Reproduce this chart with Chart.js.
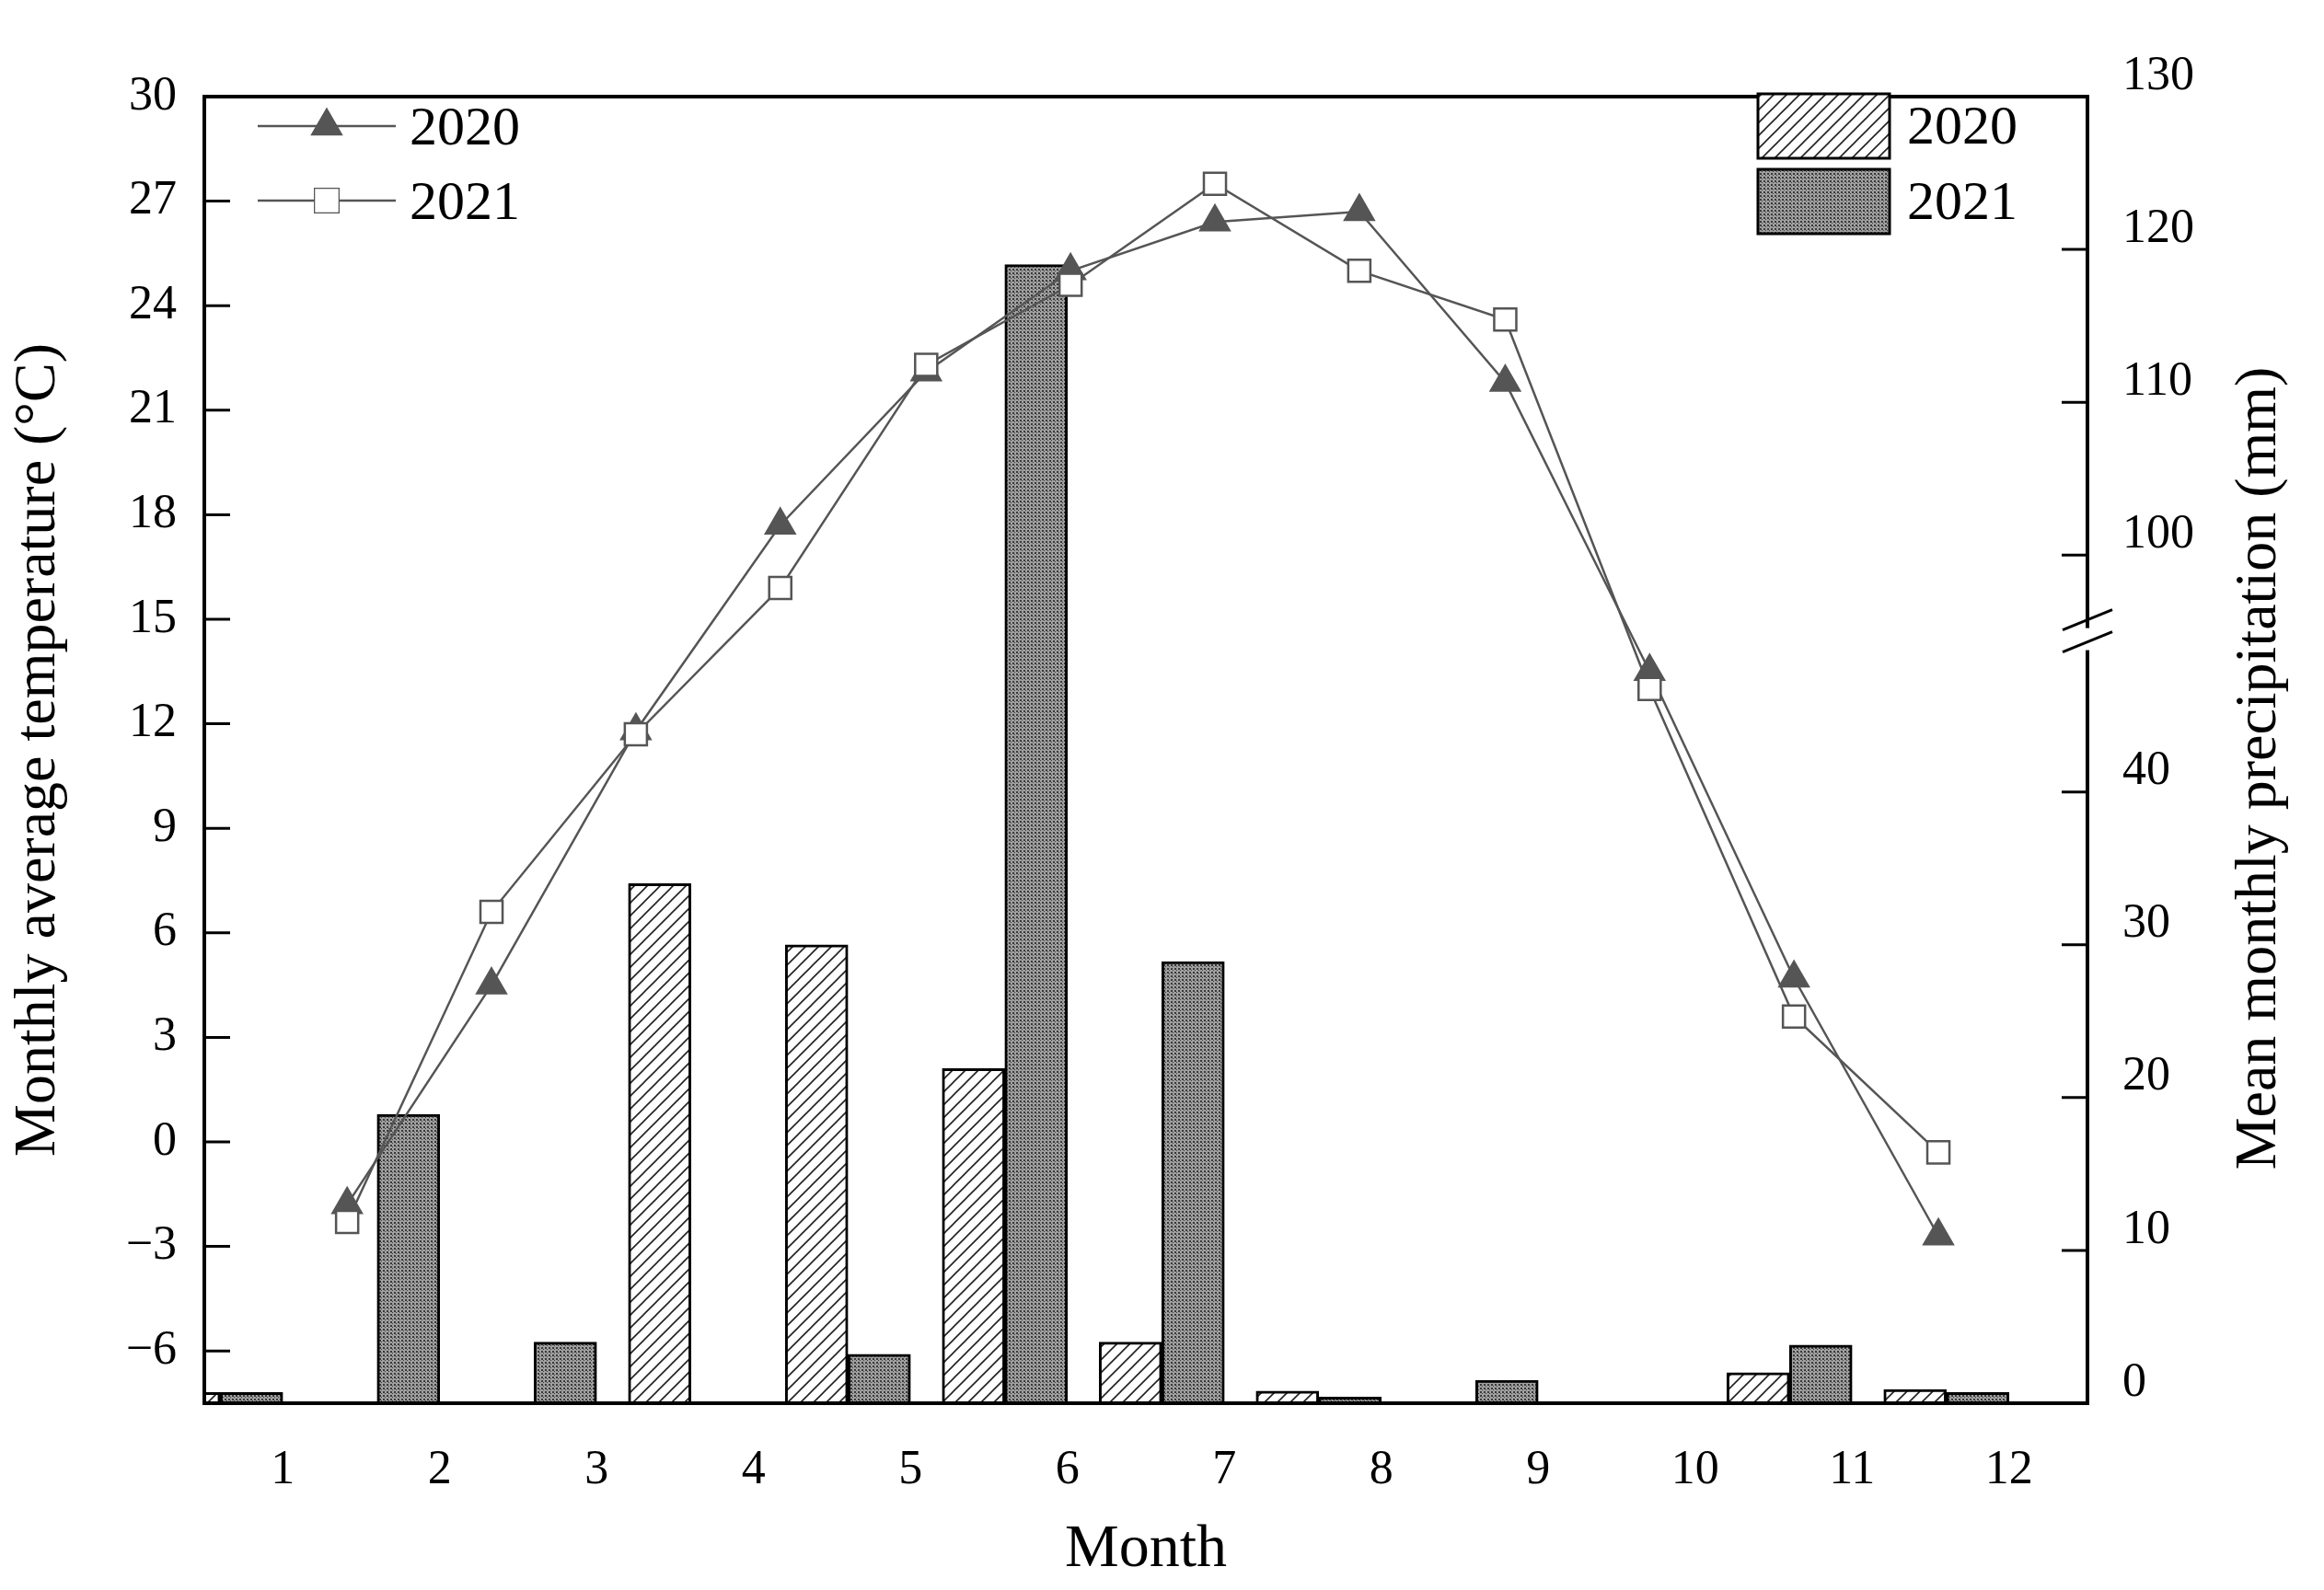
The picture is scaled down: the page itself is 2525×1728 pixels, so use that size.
<!DOCTYPE html>
<html>
<head>
<meta charset="utf-8">
<script src="https://cdn.jsdelivr.net/npm/chart.js@4.4.0/dist/chart.umd.min.js"></script>
<style>
  body { margin: 0; background: #fff; }
  #wrap { width: 2525px; height: 1728px; }
</style>
</head>
<body>
<div id="wrap"><canvas id="js-chart" width="2525" height="1728"></canvas></div>
<script>
const months = ['1', '2', '3', '4', '5', '6', '7', '8', '9', '10', '11', '12'];
// x positions of the temperature points (they are drawn slightly spread from the month ticks)
const tempX = [1.41, 2.33, 3.25, 4.17, 5.1, 6.02, 6.94, 7.86, 8.79, 9.71, 10.63, 11.55];
const temp2020 = [-1.8, 4.5, 11.8, 17.7, 22.1, 25.0, 26.4, 26.7, 21.8, 13.5, 4.7, -2.7];
const temp2021 = [-2.3, 6.6, 11.7, 15.9, 22.3, 24.6, 27.5, 25.0, 23.6, 13.0, 3.6, -0.3];
const precip2020 = [0.7, 0, 0, 34.0, 30.0, 21.9, 4.0, 0.8, 0, 0, 2.0, 0.9];
const precip2021 = [0.7, 18.9, 4.0, 0, 3.2, 119.0, 28.9, 0.4, 1.5, 0, 3.8, 0.7];
const tempTicks = [-6, -3, 0, 3, 6, 9, 12, 15, 18, 21, 24, 27, 30];
const precipTicks = [0, 10, 20, 30, 40, 100, 110, 120, 130];

// broken right axis: values above the break are shifted down
const BREAK = 50, SHIFT = 44.5;
const toAxis = v => v > BREAK ? v - SHIFT : v;

const FONT = '"Liberation Serif", "Times New Roman", serif';
const ctx = document.getElementById('js-chart').getContext('2d');

function hatchPattern() {
    const c = document.createElement('canvas');
    c.width = 14; c.height = 14;
    const g = c.getContext('2d');
    g.fillStyle = '#fff';
    g.fillRect(0, 0, 14, 14);
    g.strokeStyle = '#222';
    g.lineWidth = 1.6;
    g.beginPath();
    g.moveTo(-2, 16); g.lineTo(16, -2);
    g.moveTo(-9, 9); g.lineTo(9, -9);
    g.moveTo(5, 23); g.lineTo(23, 5);
    g.stroke();
    return ctx.createPattern(c, 'repeat');
}

function dotPattern() {
    const c = document.createElement('canvas');
    c.width = 4; c.height = 4;
    const g = c.getContext('2d');
    g.fillStyle = '#a0a0a0';
    g.fillRect(0, 0, 4, 4);
    g.fillStyle = '#3a3a3a';
    g.fillRect(0, 0, 2, 2);
    g.fillRect(2, 2, 1, 1);
    return ctx.createPattern(c, 'repeat');
}

const decorations = {
    id: 'decorations',
    afterDraw(chart) {
        const { ctx: c, chartArea: a, scales } = chart;
        const yL = scales.yTemp, yR = scales.yPrec;
        c.save();
        c.strokeStyle = '#000';
        c.lineWidth = 4;
        c.strokeRect(a.left, a.top, a.right - a.left, a.bottom - a.top);

        // inward ticks
        c.lineWidth = 3;
        c.beginPath();
        tempTicks.forEach(t => {
            const y = yL.getPixelForValue(t);
            c.moveTo(a.left, y); c.lineTo(a.left + 28, y);
        });
        precipTicks.forEach(t => {
            const y = yR.getPixelForValue(toAxis(t));
            c.moveTo(a.right, y); c.lineTo(a.right - 28, y);
        });
        c.stroke();

        // right labels (drawn a bit above their ticks like the original)
        c.fillStyle = '#000';
        c.font = '52px ' + FONT;
        c.textBaseline = 'middle';
        c.textAlign = 'left';
        precipTicks.forEach(t => {
            const y = yR.getPixelForValue(toAxis(t));
            c.fillText(String(t), a.right + 38, y - 22);
        });

        // right axis title
        c.save();
        c.translate(2455, (a.top + a.bottom) / 2 + 20);
        c.rotate(-Math.PI / 2);
        c.textAlign = 'center';
        c.font = '64px ' + FONT;
        c.fillText('Mean monthly precipitation (mm)', 0, 0);
        c.restore();

        // axis break
        const yb = yR.getPixelForValue(BREAK);
        c.fillStyle = '#fff';
        c.fillRect(a.right - 4, yb - 12, 8, 24);
        const x6 = scales.x.getPixelForValue(5);
        const bw = scales.x.width / 12 * 0.4;
        c.fillRect(x6 + 2, yb - 12, bw - 4, 24);
        c.strokeStyle = '#000';
        c.lineWidth = 3;
        c.beginPath();
        c.moveTo(a.right - 27, yb - 10); c.lineTo(a.right + 27, yb - 32);
        c.moveTo(a.right - 27, yb + 14); c.lineTo(a.right + 27, yb - 8);
        c.stroke();

        // legends
        c.font = '60px ' + FONT;
        c.fillStyle = '#000';
        const lx = 280, ly = [137, 218];
        [['2020', 'triangle', '#555'], ['2021', 'rect', '#fff']].forEach(([lab, st, fill], i) => {
            c.strokeStyle = '#555';
            c.lineWidth = 2.5;
            c.beginPath();
            c.moveTo(lx, ly[i]); c.lineTo(lx + 150, ly[i]);
            c.stroke();
            c.fillStyle = fill;
            c.strokeStyle = '#555';
            Chart.helpers.drawPoint(c, { pointStyle: st, radius: 18, borderWidth: 2.5 }, lx + 75, ly[i]);
            c.fill();
            c.fillStyle = '#000';
            c.fillText(lab, lx + 165, ly[i] + 4);
        });
        const bx = 1910, by = [102, 184];
        [['2020', hatchPattern()], ['2021', dotPattern()]].forEach(([lab, pat], i) => {
            c.fillStyle = pat;
            c.fillRect(bx, by[i], 143, 70);
            c.strokeStyle = '#000';
            c.lineWidth = 3;
            c.strokeRect(bx, by[i], 143, 70);
            c.fillStyle = '#000';
            c.fillText(lab, bx + 162, by[i] + 38);
        });
        c.restore();
    }
};

const chart = new Chart(ctx, {
    data: {
        labels: months,
        datasets: [
            {
                type: 'bar', label: 'P2020', data: precip2020.map(toAxis), yAxisID: 'yPrec', xAxisID: 'x',
                backgroundColor: hatchPattern(), borderColor: '#000', borderWidth: 3,
                barThickness: 68, order: 2
            },
            {
                type: 'bar', label: 'P2021', data: precip2021.map(toAxis), yAxisID: 'yPrec', xAxisID: 'x',
                backgroundColor: dotPattern(), borderColor: '#000', borderWidth: 3,
                barThickness: 68, order: 2
            },
            {
                type: 'line', label: 'T2020', data: tempX.map((x, i) => ({ x, y: temp2020[i] })),
                yAxisID: 'yTemp', xAxisID: 'xLine', borderColor: '#555', borderWidth: 2.5,
                pointStyle: 'triangle', pointRadius: 18, pointBackgroundColor: '#555',
                pointBorderColor: '#555', order: 1
            },
            {
                type: 'line', label: 'T2021', data: tempX.map((x, i) => ({ x, y: temp2021[i] })),
                yAxisID: 'yTemp', xAxisID: 'xLine', borderColor: '#555', borderWidth: 2.5,
                pointStyle: 'rect', pointRadius: 17, pointBackgroundColor: '#fff',
                pointBorderColor: '#555', pointBorderWidth: 2.5, order: 0
            }
        ]
    },
    options: {
        responsive: false,
        animation: false,
        devicePixelRatio: 1,
        layout: { padding: { top: 105, left: 0, right: 0, bottom: 0 } },
        plugins: { legend: { display: false }, tooltip: { enabled: false } },
        scales: {
            x: {
                type: 'category', position: 'bottom',
                grid: { display: false }, border: { display: false },
                ticks: { color: '#000', font: { family: FONT, size: 52 }, padding: 34 },
                title: { display: true, text: 'Month', color: '#000', font: { family: FONT, size: 66 }, padding: { top: 26 } },
                afterFit: s => { s.height = 203; }
            },
            xLine: { type: 'linear', min: 0.5, max: 12.5, display: false },
            yTemp: {
                position: 'left', min: -7.5, max: 30,
                grid: { display: false }, border: { display: false },
                afterBuildTicks: s => { s.ticks = tempTicks.map(v => ({ value: v })); },
                ticks: {
                    color: '#000', font: { family: FONT, size: 52 }, padding: 22,
                    callback: v => v < 0 ? '\u2212' + Math.abs(v) : String(v)
                },
                title: { display: true, text: 'Monthly average temperature (°C)', color: '#000', font: { family: FONT, size: 64 }, padding: { bottom: 6 } },
                afterFit: s => { s.width = 222; }
            },
            yPrec: {
                position: 'right', min: 0, max: 130 - SHIFT,
                grid: { display: false }, border: { display: false },
                ticks: { display: false },
                afterFit: s => { s.width = 257; }
            }
        }
    },
    plugins: [decorations]
});
</script>
</body>
</html>
